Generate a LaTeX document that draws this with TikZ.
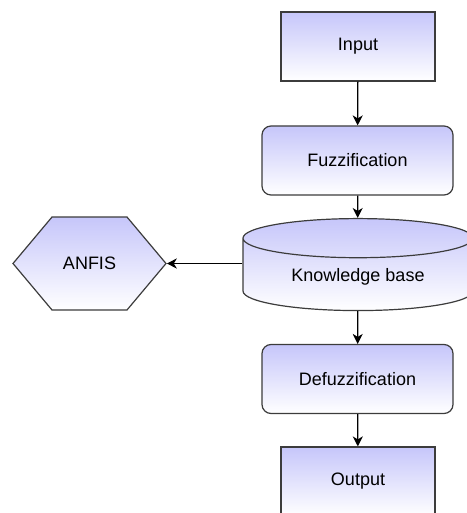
\documentclass[tikz,border=0pt]{standalone}
\usepackage{fontspec}
\setsansfont{Liberation Sans}
\usetikzlibrary{arrows.meta,positioning,shapes.geometric,shapes.symbols}

\definecolor{boxblue}{RGB}{198,198,250}
\definecolor{edgegray}{RGB}{60,60,60}

\tikzset{
  block/.style={draw=edgegray, line width=1.2pt, top color=boxblue,
    bottom color=white, font=\sffamily\fontsize{18}{21}\selectfont},
  iobox/.style={block, minimum width=154pt, minimum height=69pt},
  procbox/.style={block, rounded corners=9pt, minimum width=191pt,
    minimum height=69pt},
  kbase/.style={block, cylinder, shape border rotate=90, aspect=0.28,
    minimum width=230pt, minimum height=92pt},
  hexbox/.style={block, signal, signal to=west and east,
    signal pointer angle=100, minimum width=153pt, minimum height=93pt},
  flow/.style={-{Stealth[length=10pt,width=10pt,inset=3pt]}, line width=1.3pt}
}

\begin{document}
\begin{tikzpicture}[x=1pt,y=-1pt]
    \useasboundingbox (0,0) rectangle (466,513);
% main chain
\node[iobox] (input) at (358,46.5) {Input};
\node[procbox] (fuzz) at (357.5,160.5) {Fuzzification};
\node[kbase] (kb) at (358,277) {Knowledge base};
\node[procbox] (defuzz) at (357.5,379) {Defuzzification};
\node[iobox] (output) at (358,481.5) {Output};
% side branch
\node[hexbox] (anfis) at (89.5,263.5) {ANFIS};
\draw[flow] (input) -- (fuzz);
\draw[flow] (fuzz) -- (kb);
\draw[flow] (anfis.east -| kb.west) -- (anfis.east);
\draw[flow] (kb) -- (defuzz);
\draw[flow] (defuzz) -- (output);
\end{tikzpicture}
\end{document}
